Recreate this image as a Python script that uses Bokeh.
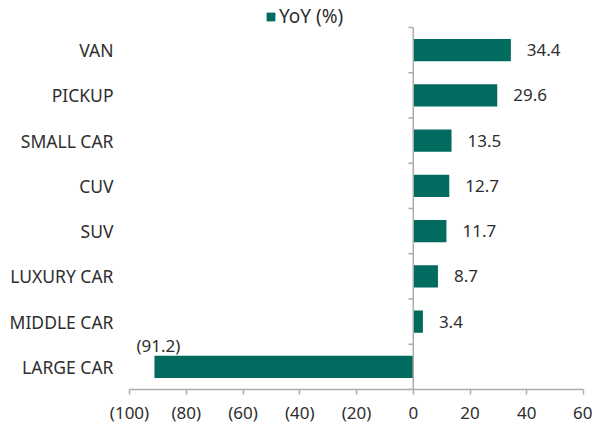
from bokeh.plotting import figure
from bokeh.models import ColumnDataSource, Range1d, FixedTicker, Legend, LegendItem
from bokeh.core.properties import value
from bokeh.embed import file_html
from bokeh.resources import INLINE

categories = ["VAN", "PICKUP", "SMALL CAR", "CUV", "SUV", "LUXURY CAR", "MIDDLE CAR", "LARGE CAR"]
yoy = [34.4, 29.6, 13.5, 12.7, 11.7, 8.7, 3.4, -91.2]
x_ticks = [-100, -80, -60, -40, -20, 0, 20, 40, 60]
series_name = "YoY (%)"

FONT = "Noto Sans"
FS = "17px"
FS_CAT = "17.5px"
FS_LEG = "19px"
TXT = "#2E2E2E"
GRID = "#ADADAD"
BAR = "#006B5E"

W, H = 592, 426
BL, BR, BT, BB = 129, 9, 4, 37
PLOT_TOP = 27  # pixel row where the category bands start
BAND_PX = 362  # pixel height of all category bands


def fmt_val(v):
    return f"({abs(v):.1f})" if v < 0 else f"{v:.1f}"


def fmt_tick(v):
    return f"({abs(v)})" if v < 0 else str(v)


n = len(categories)
ypos = [n - 1 - i for i in range(n)]

src = ColumnDataSource(dict(y=ypos, v=yoy))
pos = [i for i, v in enumerate(yoy) if v >= 0]
neg = [i for i, v in enumerate(yoy) if v < 0]
src_pos = ColumnDataSource(dict(y=[ypos[i] for i in pos], v=[yoy[i] for i in pos], lab=[fmt_val(yoy[i]) for i in pos]))
src_neg = ColumnDataSource(dict(y=[ypos[i] for i in neg], v=[yoy[i] for i in neg], lab=[fmt_val(yoy[i]) for i in neg]))

frame_h = H - BT - BB
y_top = -0.5 + n * frame_h / BAND_PX

p = figure(width=W, height=H, output_backend="svg", toolbar_location=None,
           x_range=Range1d(x_ticks[0], x_ticks[-1]), y_range=Range1d(-0.5, y_top),
           min_border_left=BL, min_border_right=BR, min_border_top=BT, min_border_bottom=BB)
p.outline_line_color = None
p.xgrid.visible = False
p.ygrid.visible = False

r = p.hbar(y="y", left=0, right="v", height=0.49, source=src, fill_color=BAR, line_color=None)

# zero line over the category bands
p.segment(x0=[0], x1=[0], y0=[-0.5], y1=[n - 0.5], line_color=GRID, line_width=1.5)
# category boundary ticks
bounds = [k - 0.5 for k in range(n + 1)]
p.segment(x0=[-1.7] * len(bounds), x1=[0] * len(bounds), y0=bounds, y1=bounds,
          line_color=GRID, line_width=1.5)

p.text(x="v", y="y", text="lab", source=src_pos, x_offset=16, text_align="left",
       text_baseline="middle", text_font=value(FONT), text_font_size=FS, text_color=TXT)
p.text(x="v", y="y", text="lab", source=src_neg, x_offset=4, y_offset=-21, text_align="center",
       text_baseline="middle", text_font=value(FONT), text_font_size=FS, text_color=TXT)

xa = p.xaxis[0]
xa.ticker = FixedTicker(ticks=x_ticks)
xa.major_label_overrides = {t: fmt_tick(t) for t in x_ticks}
xa.axis_line_color = GRID
xa.axis_line_width = 1.5
xa.major_tick_line_color = GRID
xa.major_tick_line_width = 1.5
xa.major_tick_out = 5
xa.major_tick_in = 0
xa.minor_tick_line_color = None
xa.major_label_standoff = 6
xa.major_label_text_font = FONT
xa.major_label_text_font_size = FS
xa.major_label_text_color = TXT

ya = p.yaxis[0]
ya.ticker = FixedTicker(ticks=ypos)
ya.major_label_overrides = {ypos[i]: categories[i] for i in range(n)}
ya.axis_line_color = None
ya.major_tick_line_color = None
ya.minor_tick_line_color = None
ya.major_tick_out = 0
ya.major_tick_in = 0
ya.major_label_standoff = 16
ya.major_label_text_font = FONT
ya.major_label_text_font_size = FS_CAT
ya.major_label_text_color = TXT

legend_bottom_px = PLOT_TOP + 2
legend = Legend(items=[LegendItem(label=series_name, renderers=[r])], orientation="horizontal",
                location=(136, H - BB - legend_bottom_px), margin=0, padding=0, spacing=0,
                border_line_color=None, glyph_width=11, glyph_height=11, label_standoff=3,
                label_height=20, label_text_font=FONT, label_text_font_size=FS_LEG,
                label_text_color=TXT, background_fill_alpha=0)
p.add_layout(legend)

open("out.html", "w").write(file_html(p, INLINE))
